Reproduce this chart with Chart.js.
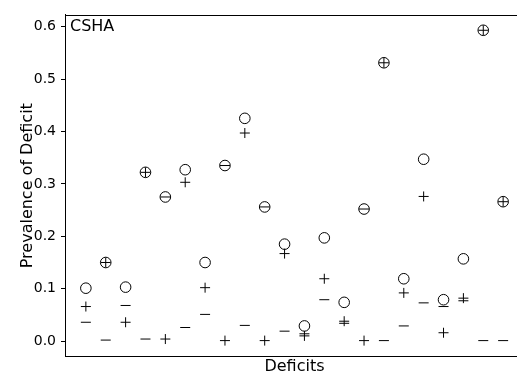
<!DOCTYPE html>
<html>
<head>
<meta charset="utf-8">
<script src="https://cdn.jsdelivr.net/npm/chart.js@4/dist/chart.umd.min.js"></script>
<style>
  html, body { margin: 0; padding: 0; background: #ffffff; overflow: hidden; }
  /* the plot box runs a few pixels past the right edge of the page */
  #wrap { width: 517px; height: 374px; overflow: hidden; }
  #c { display: block; }
</style>
</head>
<body>
<div id="wrap"><canvas id="c" width="524" height="374"></canvas></div>
<script>
// Deficit index along the x axis
const deficits = [0, 1, 2, 3, 4, 5, 6, 7, 8, 9, 10, 11, 12, 13, 14, 15, 16, 17, 18, 19, 20, 21];

// Prevalence of each deficit (open circles)
const prevalenceAll = [0.101, 0.150, 0.103, 0.322, 0.275, 0.327, 0.150, 0.335, 0.425, 0.256, 0.185,
                       0.029, 0.197, 0.074, 0.252, 0.531, 0.119, 0.347, 0.079, 0.157, 0.593, 0.266];

// Prevalence shown with plus markers
const prevalencePlus = [0.066, 0.150, 0.036, 0.322, 0.004, 0.303, 0.102, 0.001, 0.397, 0.001, 0.167,
                        0.010, 0.119, 0.038, 0.001, 0.531, 0.092, 0.276, 0.016, 0.082, 0.593, 0.266];

// Prevalence shown with minus markers
const prevalenceMinus = [0.036, 0.002, 0.068, 0.004, 0.275, 0.026, 0.051, 0.335, 0.030, 0.256, 0.019,
                         0.014, 0.079, 0.034, 0.252, 0.001, 0.029, 0.073, 0.066, 0.077, 0.001, 0.001];

// Y axis tick values
const yTicks = [0.0, 0.1, 0.2, 0.3, 0.4, 0.5, 0.6];

const FONT = "'DejaVu Sans', sans-serif";

function toPoints(vals) {
  return deficits.map((d, i) => ({ x: d, y: vals[i] }));
}

// Top and right spines and the panel label
const framePlugin = {
  id: 'frame',
  afterDraw(chart) {
    const { ctx, chartArea } = chart;
    ctx.save();
    ctx.strokeStyle = '#000000';
    ctx.lineWidth = 1;
    ctx.beginPath();
    const y = Math.round(chartArea.top) + 0.5;
    ctx.moveTo(chartArea.left, y);
    ctx.lineTo(chartArea.right, y);
    ctx.stroke();
    ctx.fillStyle = '#000000';
    ctx.font = "16px " + FONT;
    ctx.textAlign = 'left';
    ctx.textBaseline = 'alphabetic';
    ctx.fillText('CSHA', chartArea.left + 5, chartArea.top + 16.5);
    ctx.restore();
  }
};

const markerCommon = {
  showLine: false,
  borderColor: '#000000',
  backgroundColor: 'rgba(0,0,0,0)',
  borderWidth: 1,
  pointRadius: 5,
  pointHoverRadius: 5
};

new Chart(document.getElementById('c'), {
  type: 'scatter',
  data: {
    datasets: [
      Object.assign({ label: 'all', data: toPoints(prevalenceAll), pointStyle: 'circle' }, markerCommon, { pointRadius: 5.3 }),
      Object.assign({ label: 'plus', data: toPoints(prevalencePlus), pointStyle: 'cross' }, markerCommon),
      Object.assign({ label: 'minus', data: toPoints(prevalenceMinus), pointStyle: 'line' }, markerCommon)
    ]
  },
  options: {
    responsive: false,
    devicePixelRatio: 1,
    animation: false,
    layout: { autoPadding: false, padding: { top: 14.7, right: 0, bottom: 0, left: 0 } },
    plugins: {
      legend: { display: false },
      tooltip: { enabled: false }
    },
    scales: {
      x: {
        type: 'linear',
        min: -1.05,
        max: 22.05,
        afterFit(scale) { scale.height = 17.3; },
        ticks: { display: false },
        grid: { display: true, drawOnChartArea: false, drawTicks: false },
        border: { display: true, color: '#000000', width: 1 },
        title: {
          display: true,
          text: 'Deficits',
          color: '#000000',
          font: { family: FONT, size: 16 },
          padding: { top: 0, bottom: -2.5 }
        }
      },
      y: {
        type: 'linear',
        min: -0.0297,
        max: 0.6227,
        afterFit(scale) { scale.width = 65; },
        afterBuildTicks(scale) { scale.ticks = yTicks.map(v => ({ value: v })); },
        ticks: {
          color: '#000000',
          font: { family: FONT, size: 14 },
          padding: 5,
          callback: v => Number(v).toFixed(1)
        },
        grid: { display: true, drawOnChartArea: false, drawTicks: true, tickLength: 4, color: '#000000', tickColor: '#000000' },
        border: { display: true, color: '#000000', width: 1 },
        title: {
          display: true,
          text: 'Prevalence of Deficit',
          color: '#000000',
          font: { family: FONT, size: 16 },
          padding: { top: 18, bottom: 0 }
        }
      }
    }
  },
  plugins: [framePlugin]
});
</script>
</body>
</html>
